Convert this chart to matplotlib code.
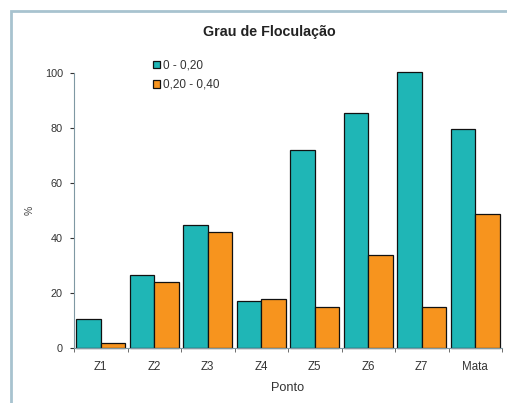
import matplotlib
matplotlib.use('Agg')
import matplotlib.pyplot as plt
import numpy as np
from matplotlib.patches import Rectangle

# dados
pontos = ['Z1', 'Z2', 'Z3', 'Z4', 'Z5', 'Z6', 'Z7', 'Mata']
serie_a = [10.5, 26.5, 44.7, 17.0, 72.0, 85.6, 100.5, 79.5]   # 0 - 0,20
serie_b = [1.8, 24.0, 42.2, 17.7, 14.8, 34.0, 14.8, 48.8]     # 0,20 - 0,40
nomes = ['0 - 0,20', '0,20 - 0,40']

teal = '#1fb6b6'
orange = '#f7941e'

plt.rcParams['font.family'] = ['Liberation Sans', 'DejaVu Sans']

fig = plt.figure(figsize=(5.07, 4.03), dpi=100)
W, H = 507, 403

# moldura externa
fig.patches.append(Rectangle((11 / W, -0.05), 1.1, (H - 11) / H + 0.05,
                             transform=fig.transFigure, fill=False,
                             edgecolor='#a8c3cf', linewidth=2.0))

ax = fig.add_axes([74 / W, (H - 348) / H, (502 - 74) / W, (348 - 73) / H])

x = np.arange(len(pontos))
w = 0.46
ax.bar(x - w / 2, serie_a, w, color=teal, edgecolor='#111111', linewidth=0.9,
       label=nomes[0], clip_on=False)
ax.bar(x + w / 2, serie_b, w, color=orange, edgecolor='#111111', linewidth=0.9,
       label=nomes[1], clip_on=False)

ax.set_xlim(-0.5, len(pontos) - 0.5)
ax.set_ylim(0, 100)
ax.set_yticks([0, 20, 40, 60, 80, 100])
ax.set_xticks(x)
ax.set_xticklabels(pontos)
ax.set_xticks(np.arange(-0.5, len(pontos)), minor=True)
ax.tick_params(axis='x', which='major', length=0, pad=9, labelsize=8.3, colors='#333333')
ax.tick_params(axis='x', which='minor', length=3, direction='out', color='#555555')
ax.tick_params(axis='y', length=3, direction='out', labelsize=7.8, colors='#333333', pad=5)

for s in ['top', 'right']:
    ax.spines[s].set_visible(False)
ax.spines['left'].set_color('#7f98a3')
ax.spines['bottom'].set_color('#7f98a3')

ax.set_xlabel('Ponto', fontsize=9.2, color='#333333', labelpad=7)
fig.text(30 / W, 1 - 210 / H, '%', fontsize=7.5, color='#444444', rotation=90,
         ha='center', va='center')

fig.text(269 / W, 1 - 32 / H, 'Grau de Floculação', fontsize=10.3, fontweight='bold',
         ha='center', va='center', color='#222222')

leg = ax.legend(loc='upper left', bbox_to_anchor=(74 / 428, 1.065), frameon=False,
                fontsize=8.5, handlelength=0.6, handleheight=0.6, handletextpad=0.3,
                labelspacing=0.6, borderaxespad=0)
for t in leg.get_texts():
    t.set_color('#333333')

fig.savefig('out.png', dpi=100)
